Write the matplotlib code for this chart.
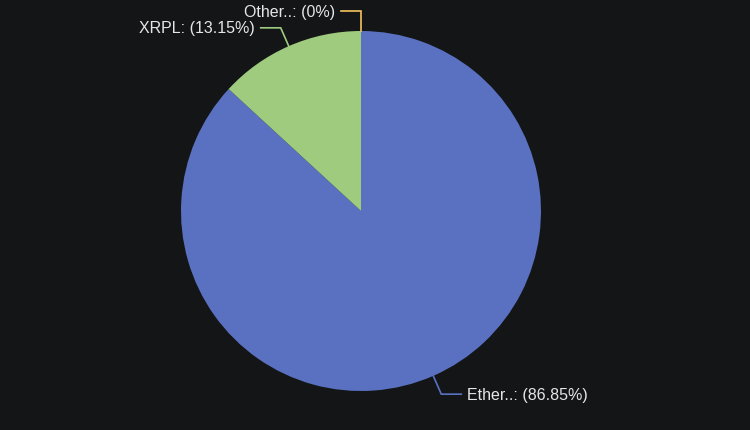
import matplotlib.pyplot as plt
import numpy as np

# Slice data (clockwise from 12 o'clock)
labels = ['Ether..', 'XRPL', 'Other..']
shares = [86.85, 13.15, 0.0]
colors = ['#5a71c2', '#9fcb7f', '#f4c45e']

BG = '#141517'
CX, CY, R = 361, 430 - 211, 180

fig = plt.figure(figsize=(7.5, 4.3), dpi=100, facecolor=BG)
ax = fig.add_axes([0, 0, 1, 1])
ax.set_facecolor(BG)
ax.set_xlim(0, 750)
ax.set_ylim(0, 430)
ax.set_aspect('equal')
ax.axis('off')

ax.pie(shares, colors=colors, startangle=90, counterclock=False,
       center=(CX, CY), radius=R, normalize=True,
       wedgeprops=dict(linewidth=0))
ax.set_xlim(0, 750)
ax.set_ylim(0, 430)

# Label lines in the style of the original (radial segment then horizontal)
total = sum(shares)
cum = 0.0
for lab, val, col in zip(labels, shares, colors):
    mid = (cum + val / 2) / total * 2 * np.pi
    cum += val
    dx, dy = np.sin(mid), np.cos(mid)
    x0, y0 = CX + R * dx, CY + R * dy
    x1, y1 = CX + (R + 20) * dx, CY + (R + 20) * dy
    side = 1 if dx > 1e-9 else -1
    x2 = x1 + 20 * side
    ax.plot([x0, x1, x2], [y0, y1, y1], color=col, lw=1.2,
            solid_joinstyle='miter', clip_on=False)
    txt = f'{lab}: ({val:g}%)'
    ax.text(x2 + 6 * side, y1 - 1, txt, color='#e6e6e6', fontsize=11.5,
            family='Liberation Sans', va='center',
            ha='left' if side > 0 else 'right')

fig.savefig('out.png', dpi=100, facecolor=BG)
